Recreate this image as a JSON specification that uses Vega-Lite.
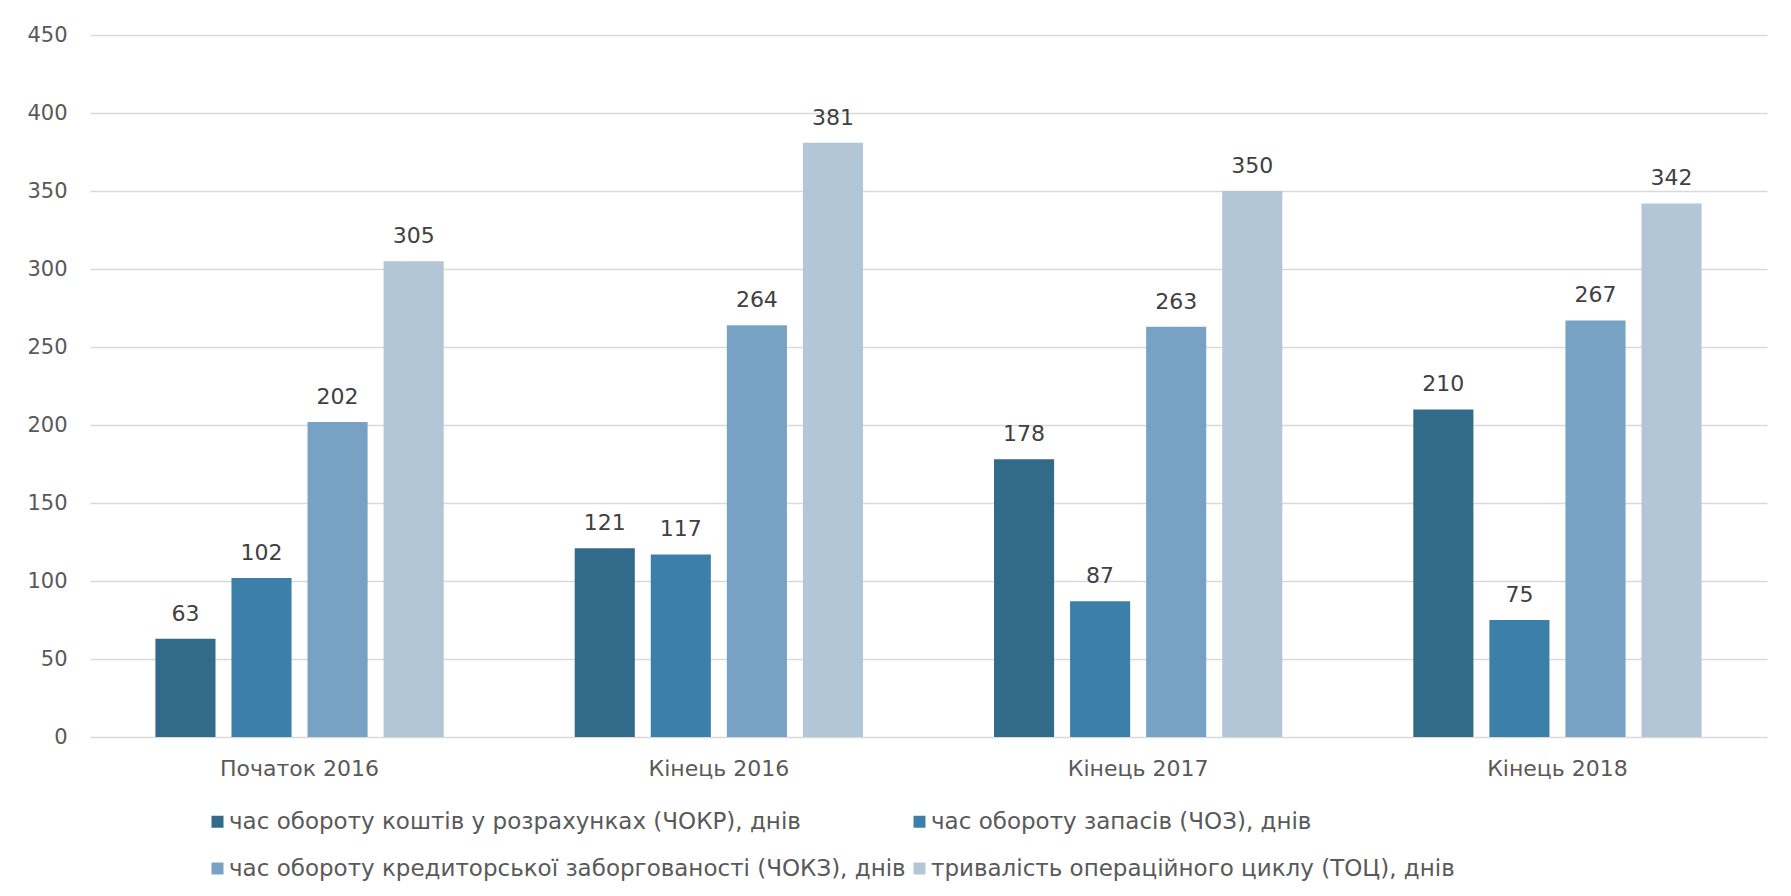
{
  "$schema": "https://vega.github.io/schema/vega-lite/v6.json",
  "width": 1677,
  "height": 702,
  "autosize": {"type": "none"},
  "padding": {"left": 90, "top": 35, "right": 24, "bottom": 159},
  "background": "white",
  "config": {
    "view": {"stroke": null},
    "font": "DejaVu Sans",
    "axis": {"labelFont": "DejaVu Sans", "labelColor": "#595959", "labelFontSize": 21, "gridColor": "#d9d9d9", "gridWidth": 1.3, "domain": false, "ticks": false, "title": null}
  },
  "data": {
    "values": [
      {"period": "Початок 2016", "series": "час обороту коштів у розрахунках (ЧОКР), днів", "days": 63},
      {"period": "Початок 2016", "series": "час обороту запасів (ЧОЗ), днів", "days": 102},
      {"period": "Початок 2016", "series": "час обороту кредиторської заборгованості (ЧОКЗ), днів", "days": 202},
      {"period": "Початок 2016", "series": "тривалість операційного циклу (ТОЦ), днів", "days": 305},
      {"period": "Кінець 2016", "series": "час обороту коштів у розрахунках (ЧОКР), днів", "days": 121},
      {"period": "Кінець 2016", "series": "час обороту запасів (ЧОЗ), днів", "days": 117},
      {"period": "Кінець 2016", "series": "час обороту кредиторської заборгованості (ЧОКЗ), днів", "days": 264},
      {"period": "Кінець 2016", "series": "тривалість операційного циклу (ТОЦ), днів", "days": 381},
      {"period": "Кінець 2017", "series": "час обороту коштів у розрахунках (ЧОКР), днів", "days": 178},
      {"period": "Кінець 2017", "series": "час обороту запасів (ЧОЗ), днів", "days": 87},
      {"period": "Кінець 2017", "series": "час обороту кредиторської заборгованості (ЧОКЗ), днів", "days": 263},
      {"period": "Кінець 2017", "series": "тривалість операційного циклу (ТОЦ), днів", "days": 350},
      {"period": "Кінець 2018", "series": "час обороту коштів у розрахунках (ЧОКР), днів", "days": 210},
      {"period": "Кінець 2018", "series": "час обороту запасів (ЧОЗ), днів", "days": 75},
      {"period": "Кінець 2018", "series": "час обороту кредиторської заборгованості (ЧОКЗ), днів", "days": 267},
      {"period": "Кінець 2018", "series": "тривалість операційного циклу (ТОЦ), днів", "days": 342}
    ]
  },
  "encoding": {
    "x": {
      "field": "period", "type": "nominal",
      "sort": ["Початок 2016", "Кінець 2016", "Кінець 2017", "Кінець 2018"],
      "scale": {"paddingInner": 0.3125, "paddingOuter": 0.156},
      "axis": {"labelAngle": 0, "labelPadding": 21, "labelFontSize": 22, "grid": false}
    },
    "xOffset": {
      "field": "series", "type": "nominal",
      "sort": ["час обороту коштів у розрахунках (ЧОКР), днів", "час обороту запасів (ЧОЗ), днів", "час обороту кредиторської заборгованості (ЧОКЗ), днів", "тривалість операційного циклу (ТОЦ), днів"],
      "scale": {"paddingInner": 0.21, "paddingOuter": 0}
    },
    "y": {
      "field": "days", "type": "quantitative",
      "scale": {"domain": [0, 450], "nice": false},
      "axis": {"values": [0, 50, 100, 150, 200, 250, 300, 350, 400, 450], "labelPadding": 23, "grid": true}
    }
  },
  "layer": [
    {
      "mark": {"type": "bar"},
      "encoding": {
        "color": {
          "field": "series", "type": "nominal",
          "sort": ["час обороту коштів у розрахунках (ЧОКР), днів", "час обороту запасів (ЧОЗ), днів", "час обороту кредиторської заборгованості (ЧОКЗ), днів", "тривалість операційного циклу (ТОЦ), днів"],
          "scale": {"range": ["#326A8A", "#3C80A9", "#77A2C3", "#B3C6D8"]},
          "legend": {
            "title": null, "orient": "none", "legendX": 116, "legendY": 775,
            "direction": "horizontal", "columns": 2,
            "symbolType": "square", "symbolSize": 144, "symbolStrokeWidth": 0,
            "labelFont": "DejaVu Sans", "labelFontSize": 23, "labelColor": "#595959", "labelOffset": 0,
            "labelLimit": 1000, "columnPadding": 2, "rowPadding": 23
          }
        }
      }
    },
    {
      "mark": {"type": "text", "baseline": "alphabetic", "dy": -18, "fontSize": 22, "color": "#404040", "font": "DejaVu Sans"},
      "encoding": {"text": {"field": "days", "type": "quantitative"}}
    }
  ]
}
